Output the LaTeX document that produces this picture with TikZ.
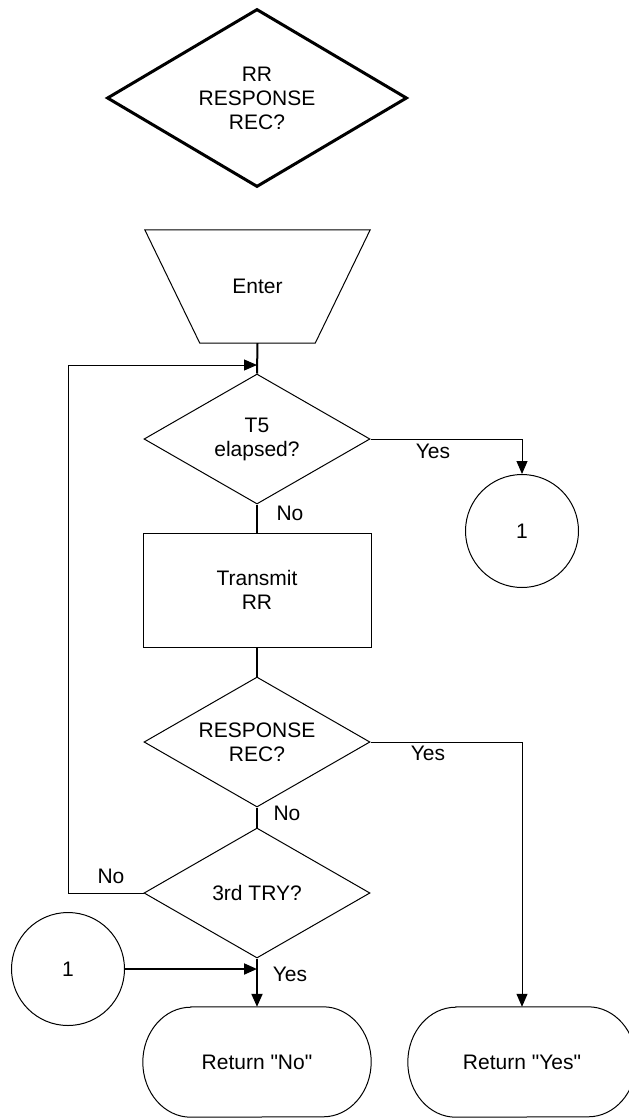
\documentclass[tikz,border=0pt]{standalone}
\usepackage{fontspec}
\setmainfont{Liberation Sans}
\usetikzlibrary{shapes.geometric,arrows.meta}
\begin{document}
\begin{tikzpicture}[x=1pt,y=-1pt,
  every node/.style={font=\fontsize{21}{24}\selectfont, align=center},
  dec/.style={diamond, draw, line width=1pt, inner sep=0pt, aspect=1.74, minimum width=226pt, minimum height=130pt},
  thinline/.style={line width=1pt},
  thickline/.style={line width=2pt},
  arr/.style={-{Triangle[length=13pt,width=11pt]}},
  term/.style={inner sep=0pt, minimum width=228pt, minimum height=110pt},
  lbl/.style={inner sep=0pt}
]
\clip (0,0) rectangle (629,1119);
% top symbol
\node[dec, line width=3pt, aspect=1.685, minimum width=300pt, minimum height=178pt] (top) at (257,98) {RR\\RESPONSE\\REC?};
% Enter
\node[inner sep=0pt, minimum width=115pt, minimum height=113pt] (enter) at (257.5,286.5) {Enter};
\draw[thinline] (enter.south west) -- ([xshift=-55pt]enter.north west) -- ([xshift=55pt]enter.north east) -- (enter.south east) -- cycle;
% decisions and process
\node[dec] (t5) at (257,439) {T5\\elapsed?};
\node[draw, line width=1pt, minimum width=228pt, minimum height=114pt] (tx) at (257,590) {Transmit\\RR};
\node[dec] (rr) at (257,742) {RESPONSE\\REC?};
\node[dec] (d3) at (257,893) {3rd TRY?};
% connectors (circles)
\node[circle, draw, line width=1pt, minimum size=113pt, inner sep=0pt] (c1) at (522,531) {1};
\node[circle, draw, line width=1pt, minimum size=113pt, inner sep=0pt] (c2) at (68,969) {1};
% terminals
\node[term] (retno) at (257,1062) {Return \textquotedbl No\textquotedbl};
\node[term] (retyes) at (522,1062) {Return \textquotedbl Yes\textquotedbl};
\foreach \n in {retno,retyes}{
  \draw[thinline] ([xshift=48pt]\n.north west) -- ([xshift=-48pt]\n.north east)
    arc[start angle=90,end angle=-90,x radius=48pt,y radius=55pt]
    -- ([xshift=48pt]\n.south west)
    arc[start angle=270,end angle=90,x radius=48pt,y radius=55pt] -- cycle;
}
% connector lines
\coordinate (j1) at (257,365);
\coordinate (loopc) at (68,365);
\coordinate (j2) at (257,969);
\draw[thickline] (enter.south) -- (t5.north);
\draw[thinline, arr] (d3.west) -| (loopc) -- (j1);
\draw[thinline, arr] (t5.east) -| (c1.north);
\draw[thickline] (t5.south) -- (tx.north);
\draw[thickline] (tx.south) -- (rr.north);
\draw[thinline, arr] (rr.east) -| (retyes.north);
\draw[thickline] (rr.south) -- (d3.north);
\draw[thickline, arr] (d3.south) -- (retno.north);
\draw[thickline, arr] (c2.east) -- (j2);
% labels
\node[lbl] (y1) at (433,451) {Yes};
\node[lbl] (n1) at (290,513) {No};
\node[lbl] (y2) at (428,753) {Yes};
\node[lbl] (n2) at (287,813) {No};
\node[lbl] (n3) at (111,876) {No};
\node[lbl] (y3) at (290,974) {Yes};
\end{tikzpicture}
\end{document}
